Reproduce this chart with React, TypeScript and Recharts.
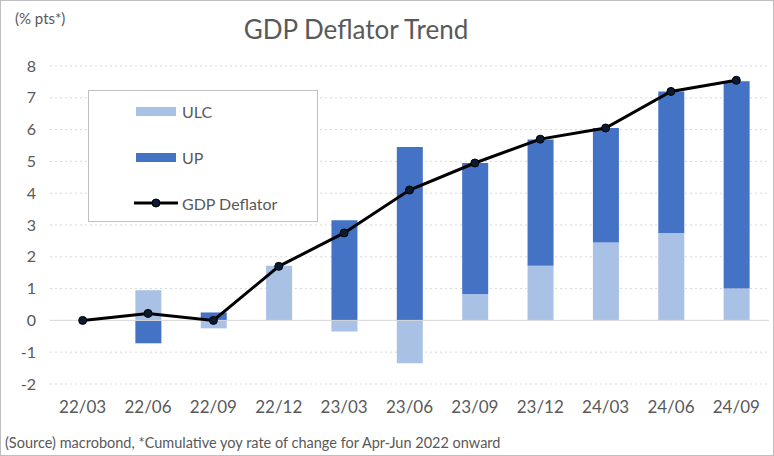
import React from 'react';
import {
  ComposedChart, Bar, Line, XAxis, YAxis, CartesianGrid, ReferenceLine,
} from 'recharts';

// quarters on the x axis
const quarters = ['22/03', '22/06', '22/09', '22/12', '23/03', '23/06', '23/09', '23/12', '24/03', '24/06', '24/09'];
// contributions, % pts
const ulc = [0, 0.95, -0.25, 1.72, -0.35, -1.35, 0.82, 1.72, 2.45, 2.75, 1.0];
const up = [0, -0.72, 0.25, 0, 3.15, 5.45, 4.13, 3.97, 3.6, 4.45, 6.52];
const deflator = [0, 0.22, 0.0, 1.7, 2.75, 4.1, 4.95, 5.7, 6.05, 7.2, 7.55];
const yTicks = [-2, -1, 0, 1, 2, 3, 4, 5, 6, 7, 8];

const LIGHT = '#aac1e6';
const DARK = '#4472c4';
const TEXT = '#595959';
const FONT = 'Lato, "Open Sans", sans-serif';

const data = quarters.map((q, i) => ({ q, ulc: ulc[i], up: up[i], deflator: deflator[i] }));

const legendItems = [
  { name: 'ULC', kind: 'bar', color: LIGHT },
  { name: 'UP', kind: 'bar', color: DARK },
  { name: 'GDP Deflator', kind: 'line', color: '#000' },
];

// legend is drawn as a plain box so it doesn't shrink the plot area
const LegendBox = () => (
  <div style={{
    position: 'absolute', left: 87, top: 89, width: 230, height: 132,
    border: '1px solid #bfbfbf', background: '#fff', boxSizing: 'border-box',
  }}>
    {legendItems.map((it, i) => (
      <div key={it.name} style={{ position: 'absolute', left: 45, top: 10 + i * 46, display: 'flex', alignItems: 'center', height: 20 }}>
        <svg width={44} height={12} style={{ marginRight: 4 }}>
          {it.kind === 'line' ? (
            <g>
              <line x1={0} y1={6} x2={44} y2={6} stroke="#000" strokeWidth={3} />
              <circle cx={22} cy={6} r={4} fill="#0b1a33" stroke="#000" />
            </g>
          ) : (
            <rect x={2} y={2} width={40} height={9} fill={it.color} />
          )}
        </svg>
        <span style={{ fontSize: 16, color: TEXT, fontFamily: FONT }}>{it.name}</span>
      </div>
    ))}
  </div>
);

export default function App() {
  return (
    <div style={{ position: 'absolute', left: 0, top: 0, width: 774, height: 456, background: '#fff', border: '1px solid #bfbfbf', boxSizing: 'border-box', fontFamily: FONT }}>
      <ComposedChart
        width={774}
        height={456}
        data={data}
        stackOffset="sign"
        margin={{ top: 66, right: 5, bottom: 32, left: 10 }}
        style={{ position: 'absolute', left: -1, top: -1 }}
      >
        <CartesianGrid vertical={false} stroke="#d9d9d9" strokeDasharray="2 3" />
        <XAxis
          dataKey="q"
          axisLine={false}
          tickLine={false}
          height={40}
          tick={{ fill: TEXT, fontSize: 17, fontFamily: FONT }}
          tickMargin={11}
          interval={0}
        />
        <YAxis
          domain={[-2, 8]}
          ticks={yTicks}
          axisLine={false}
          tickLine={false}
          width={40}
          tick={{ fill: TEXT, fontSize: 16, fontFamily: FONT }}
          tickMargin={8}
        />
        <ReferenceLine y={0} stroke="#d9d9d9" />
        <Bar dataKey="ulc" name="ULC" stackId="s" fill={LIGHT} barSize={26} isAnimationActive={false} />
        <Bar dataKey="up" name="UP" stackId="s" fill={DARK} barSize={26} isAnimationActive={false} />
        <Line
          dataKey="deflator"
          name="GDP Deflator"
          stroke="#000"
          strokeWidth={3}
          dot={{ r: 4, fill: '#0b1a33', stroke: '#000', strokeWidth: 1 }}
          isAnimationActive={false}
        />
      </ComposedChart>
      <div style={{ position: 'absolute', left: 14, top: 8, fontSize: 15, color: TEXT }}>(% pts*)</div>
      <div style={{ position: 'absolute', left: 0, width: 710, top: 12, textAlign: 'center', fontSize: 26, color: TEXT }}>GDP Deflator Trend</div>
      <LegendBox />
      <div style={{ position: 'absolute', left: 4, top: 433, fontSize: 14.5, color: TEXT }}>
        (Source) macrobond, *Cumulative yoy rate of change for Apr-Jun 2022 onward
      </div>
    </div>
  );
}
